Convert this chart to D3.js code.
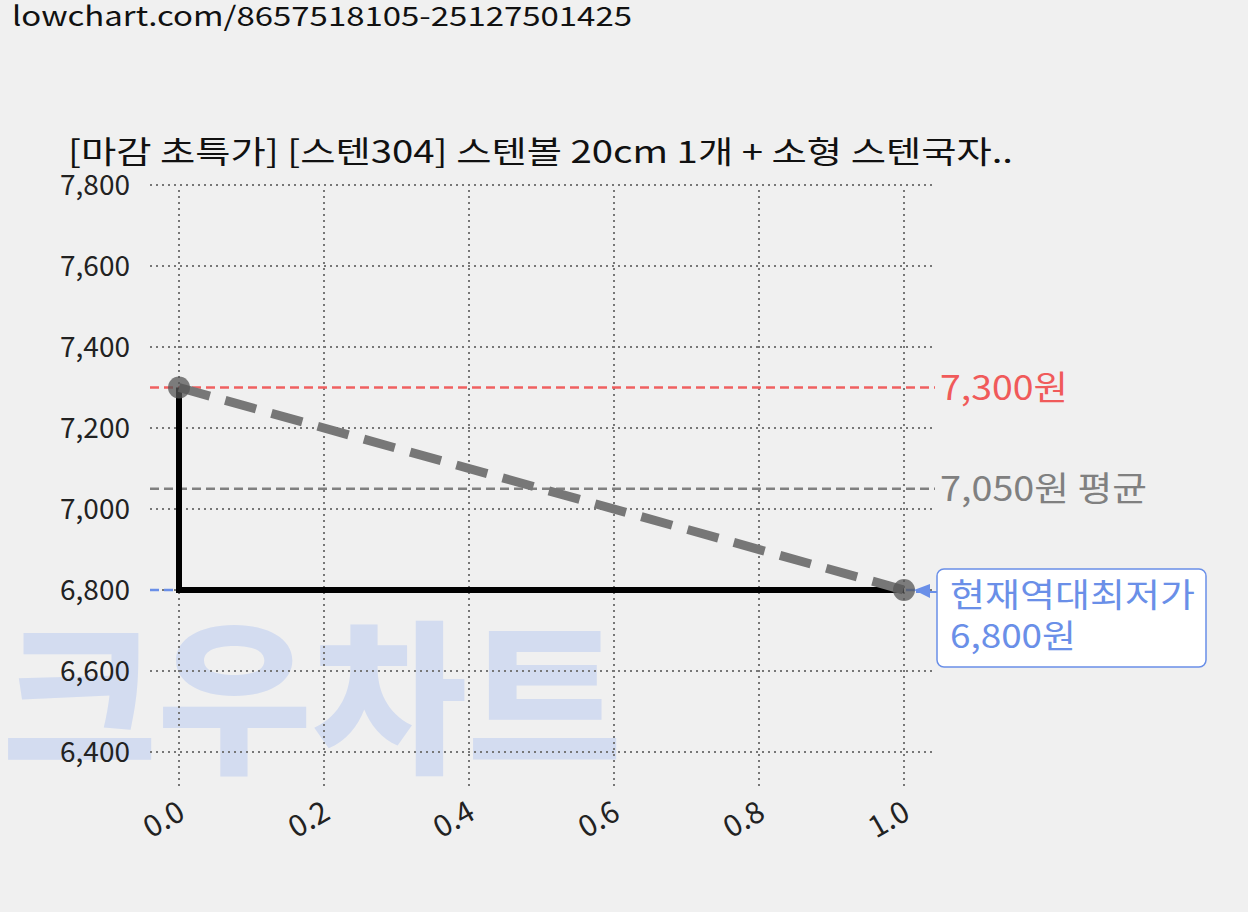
<!DOCTYPE html>
<html><head><meta charset="utf-8">
<script src="https://cdn.jsdelivr.net/npm/d3@7"></script>
<style>body{margin:0;background:#f0f0f0;}svg{display:block;font-family:"Noto Sans CJK KR","Noto Sans",sans-serif;}</style>
</head><body>
<script>
const xTicks=[0,0.2,0.4,0.6,0.8,1.0];
const yTicks=[6400,6600,6800,7000,7200,7400,7600,7800];
const priceX=[0,1];
const priceY=[7300,6800];
const stepX=[0,0,1];
const stepY=[7300,6800,6800];
const maxPrice=7300, avgPrice=7050, minPrice=6800;
const title="[마감 초특가] [스텐304] 스텐볼 20cm 1개 + 소형 스텐국자..";
const url="lowchart.com/8657518105-25127501425";

const W=1248,H=912;
const svg=d3.select("body").append("svg").attr("width",W).attr("height",H);
svg.append("rect").attr("width",W).attr("height",H).attr("fill","#f0f0f0");
const x=d3.scaleLinear().domain([0,1]).range([179,904]);
const y=d3.scaleLinear().domain([6400,7800]).range([752,185]);
const L=150,R=935,T=190,B=787;

svg.append("text").attr("x",12).attr("y",26).attr("font-size",27).attr("fill","#111")
  .attr("textLength",620).attr("lengthAdjust","spacingAndGlyphs").text(url);
// watermark
svg.append("text").attr("x",2).attr("y",760).attr("font-size",165).attr("font-weight",900)
  .attr("fill","#d3dcf0").attr("textLength",620).attr("lengthAdjust","spacingAndGlyphs").text("크우차트");

const g=svg.append("g");
yTicks.forEach(v=>g.append("line").attr("x1",L).attr("x2",R).attr("y1",y(v)).attr("y2",y(v))
  .attr("stroke","#777").attr("stroke-width",2).attr("stroke-dasharray","2,4"));
xTicks.forEach(v=>g.append("line").attr("x1",x(v)).attr("x2",x(v)).attr("y1",T).attr("y2",B)
  .attr("stroke","#777").attr("stroke-width",2).attr("stroke-dasharray","2,4"));

yTicks.forEach(v=>svg.append("text").attr("x",130).attr("y",y(v)+10).attr("text-anchor","end")
  .attr("font-size",28).attr("fill","#222").text(d3.format(",")(v)));
xTicks.forEach(v=>svg.append("text").attr("transform",`translate(${x(v)+8},${818}) rotate(-30)`)
  .attr("text-anchor","end").attr("font-size",30).attr("fill","#222").text(v.toFixed(1)));

svg.append("text").attr("x",68).attr("y",163).attr("font-size",31).attr("fill","#111")
  .attr("textLength",945).attr("lengthAdjust","spacingAndGlyphs").text(title);

function hline(v,c,x2){svg.append("line").attr("x1",L).attr("x2",x2).attr("y1",y(v)).attr("y2",y(v))
  .attr("stroke",c).attr("stroke-width",2.5).attr("stroke-dasharray","9,5");}
hline(maxPrice,"#f06060",R);
hline(avgPrice,"#808080",R);
hline(minPrice,"#6a8fe8",920);
svg.append("text").attr("x",940).attr("y",y(maxPrice)+12).attr("font-size",34).attr("fill","#f05a5a")
  .attr("textLength",128).attr("lengthAdjust","spacingAndGlyphs").text(d3.format(",")(maxPrice)+"원");
svg.append("text").attr("x",940).attr("y",y(avgPrice)+12).attr("font-size",34).attr("fill","#808080")
  .attr("textLength",207).attr("lengthAdjust","spacingAndGlyphs").text(d3.format(",")(avgPrice)+"원 평균");

const line=d3.line().x(d=>x(d[0])).y(d=>y(d[1]));
svg.append("path").attr("d",line(stepX.map((v,i)=>[v,stepY[i]]))).attr("fill","none")
  .attr("stroke","#000").attr("stroke-width",6);
svg.append("path").attr("d",line(priceX.map((v,i)=>[v,priceY[i]]))).attr("fill","none")
  .attr("stroke","#777").attr("stroke-width",9).attr("stroke-dasharray","32,16");
priceX.forEach((v,i)=>svg.append("circle").attr("cx",x(v)).attr("cy",y(priceY[i])).attr("r",11)
  .attr("fill","#555").attr("opacity",0.75));

// annotation
svg.append("rect").attr("x",937).attr("y",569).attr("width",269).attr("height",98).attr("rx",7)
  .attr("fill","#fff").attr("stroke","#6a8fe8").attr("stroke-width",1.5);
svg.append("path").attr("d",`M937,592 L916,592`).attr("stroke","#6a8fe8").attr("stroke-width",2);
svg.append("path").attr("d",`M914,590 L930,584 L930,598 Z`).attr("fill","#6a8fe8");
svg.append("text").attr("x",950).attr("y",607).attr("font-size",33).attr("fill","#6a8fe8")
  .attr("textLength",245).attr("lengthAdjust","spacingAndGlyphs").text("현재역대최저가");
svg.append("text").attr("x",950).attr("y",648).attr("font-size",33).attr("fill","#6a8fe8")
  .attr("textLength",126).attr("lengthAdjust","spacingAndGlyphs").text(d3.format(",")(minPrice)+"원");
</script>
</body></html>
